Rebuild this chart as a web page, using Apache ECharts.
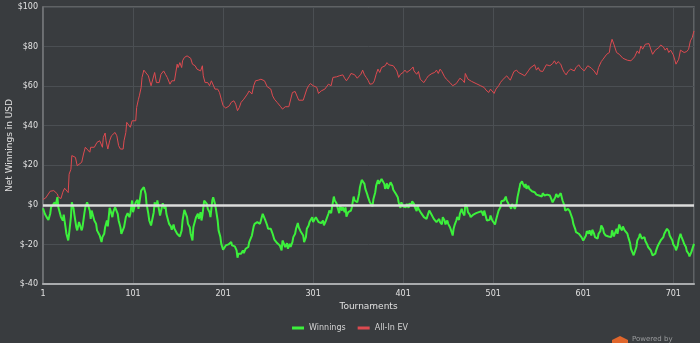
<!DOCTYPE html>
<html>
<head>
<meta charset="utf-8">
<style>
  html, body { margin: 0; padding: 0; background: #393c3f; }
  #chart { width: 700px; height: 343px; }
</style>
<script src="https://cdn.jsdelivr.net/npm/echarts@6.0.0/dist/echarts.min.js"></script>
</head>
<body>
<div id="chart"></div>
<script>
// Net result per tournament count: [tournament, USD]
const winnings = [
  [1,-1.7],[3,-4.5],[5,-6.2],[7,-7.6],[9,-4.5],[10,-1.2],[12,-0.3],[14,1.3],[15,-0.3],[17,3.9],[18,-1.2],[20,-4.5],[21,-6.2],[23,-7.9],[24,-4.9],[26,-11.3],[27,-14.6],[29,-18],[30,-14.6],[32,-6.2],[33,1.3],[35,-2],[36,-5.4],[38,-11.3],[39,-12.9],[41,-8.7],[42,-7.9],[44,-12.9],[45,-10.9],[47,-4.2],[48,-1.2],[50,1.3],[51,0.5],[53,-2.9],[54,-7.1],[55,-2.9],[57,-3.7],[58,-7.9],[60,-9.6],[61,-12.9],[63,-13.8],[64,-15.5],[66,-18.8],[67,-16.3],[69,-14.6],[70,-11.3],[72,-7.9],[73,-10.9],[75,-1.5],[76,-2.9],[78,-6.2],[79,-3.7],[81,-1.2],[82,-2.2],[84,-4.5],[85,-7.9],[87,-11.3],[88,-14.6],[90,-15.5],[91,-11.3],[93,-6.2],[94,-5.4],[95,-4.2],[97,-6.2],[98,-4.5],[100,2.2],[101,-3.7],[103,-0.3],[104,1.3],[106,2.5],[107,-2],[109,3.9],[110,7.2],[112,8.1],[113,8.9],[115,5.5],[116,0.5],[118,-4.5],[119,-7.9],[121,-10.4],[122,-11.3],
  [124,-3.7],[125,1.3],[127,-1.2],[128,2.2],[130,-2.9],[131,-5.4],[133,-1.2],[134,0.8],[136,-2],[137,-0.3],[138,-4.5],[140,-7.9],[141,-9.6],[143,-10.9],[144,-12.6],[146,-9.9],[147,-12.1],[149,-12.9],[150,-14.6],[152,-15.5],[153,-16],[155,-12.9],[156,-7.9],[158,-2.5],[159,-2.9],[161,-6.2],[162,-9.6],[164,-11.3],[165,-14.6],[167,-18],[168,-11.3],[170,-7.9],[171,-6.2],[173,-4.5],[174,-7.1],[176,-3.7],[177,-7.9],[178,-5.4],[180,2.2],[181,3],[183,0.5],[184,-2],[186,-3.7],[187,-6.2],[189,2.2],[190,3.9],[192,0.5],[193,-2],[195,-7.9],[196,-12.9],[198,-16.3],[199,-19.7],[201,-22.7],[202,-22.2],[204,-20.5],[205,-19.7],[207,-20],[208,-19.3],[210,-18.8],[211,-20.5],[213,-19.7],[214,-21],[216,-23],[217,-26.7],[218,-24.7],[220,-23.9],[221,-24.7],[223,-23],[224,-24.4],[226,-22.2],[227,-23],[229,-21.3],[230,-18.8],[232,-18],[233,-15.5],[235,-10.9],[236,-9.6],[238,-10.4],[239,-8.7],[241,-7.9],[242,-9.6],
  [244,-9.6],[245,-4.5],[247,-5.4],[248,-7.9],[250,-10.4],[251,-12.1],[253,-12.9],[254,-12.1],[256,-14.6],[257,-15.5],[258,-17.6],[260,-18],[261,-19.3],[263,-18.3],[264,-20.5],[266,-23],[267,-18],[269,-18.8],[270,-21.3],[272,-19.3],[273,-22.2],[275,-19.7],[276,-21.3],[278,-18.8],[279,-16.3],[281,-14.6],[282,-12.1],[284,-9.2],[285,-11.3],[287,-13.3],[288,-12.9],[290,-15.5],[291,-18.8],[293,-16.3],[294,-12.1],[296,-10.4],[297,-8.7],[298,-7.9],[300,-6.2],[301,-8.7],[303,-7.9],[304,-6.2],[306,-5.9],[307,-8.7],[309,-7.9],[310,-9.2],[312,-7.9],[313,-10.3],[315,-8.2],[316,-7.9],[318,-4.5],[319,-2.9],[321,-4.2],[322,-1.2],[324,4.2],[325,2.2],[327,0.8],[328,-1.2],[330,-4.2],[331,-0.3],[333,-2.9],[334,-1.2],[336,-3.7],[337,-1.2],[338,-5.9],[340,-3.7],[341,-4.2],[343,-2.9],[344,-1.2],[346,4.2],[347,2.2],[349,3],[350,1.3],[352,5.5],[353,8.9],[355,12.6],[356,12.3],[358,10.6],[359,8.1],[361,5.5],[362,3.9],
  [364,1.3],[365,0.5],[367,-0.8],[368,3],[370,6.4],[371,9.7],[373,12.6],[374,10.6],[376,11.4],[377,13.1],[378,12.6],[380,10.6],[381,8.1],[383,10.9],[384,8.1],[386,8.9],[387,11.4],[389,9.7],[390,7.6],[392,8.6],[393,5.5],[395,3.9],[396,1.3],[398,-1.5],[399,1.3],[401,-0.8],[402,-0.3],[404,-1.2],[405,0.5],[407,-1.5],[408,0.8],[410,-0.3],[411,1.8],[413,0.5],[414,-1.2],[416,-3.2],[417,-0.3],[418,-2],[420,-2.9],[421,-4.2],[423,-4.5],[424,-6.2],[426,-5.4],[427,-7.1],[429,-4.2],[430,-2.9],[432,-4.5],[433,-5.4],[435,-7.1],[436,-7.6],[438,-8.7],[439,-9.6],[441,-7.1],[442,-8.7],[444,-9.9],[445,-6.2],[447,-7.9],[448,-9.9],[450,-7.9],[451,-9.6],[453,-11.3],[454,-12.6],[456,-15.5],[457,-12.1],[458,-10.4],[460,-7.9],[461,-6.2],[463,-7.6],[464,-4.5],[466,-2],[467,-3.7],[469,-5.4],[470,0.2],[472,-1.2],[473,-3.7],[475,-4.9],[476,-6.2],[478,-5.4],[479,-4.9],[481,-5.9],[482,-4.2],
  [484,-4.5],[485,-3.7],[487,-4.5],[488,-3.2],[490,-5.4],[491,-2.9],[493,-6.2],[494,-7.9],[496,-8.7],[497,-7.6],[498,-5.4],[500,-7.9],[501,-7.1],[503,-9.9],[504,-7.9],[506,-4.5],[507,-2.9],[509,-1.2],[510,1.8],[512,1.3],[513,2.2],[515,4.2],[516,2.2],[518,0.5],[519,-0.3],[521,-2],[522,0.5],[524,0.2],[525,-2],[527,0.5],[528,3.9],[530,8.1],[531,10.6],[533,11.9],[534,10.6],[536,8.9],[537,10.6],[538,8.1],[540,9.7],[541,8.1],[543,7.2],[544,6.9],[546,5.9],[547,6.4],[549,5.2],[550,5.9],[552,4.7],[553,5.5],[555,4.2],[556,5.9],[558,4.7],[559,5.5],[561,5.2],[562,5.9],[564,4.7],[565,3.9],[567,1.3],[568,0.5],[570,3.9],[571,5.5],[573,3.9],[574,3],[576,5.9],[577,5.2],[578,2.2],[580,-0.3],[581,-2.9],[583,-3.7],[584,-2],[586,-3.2],[587,-4.5],[589,-7.1],[590,-9.6],[592,-12.1],[593,-13.8],[595,-13.3],[596,-14.6],[598,-15.5],[599,-16.3],[601,-18],[602,-17.1],
  [604,-15.5],[605,-13.3],[607,-14.6],[608,-12.9],[610,-15.5],[611,-12.6],[613,-14.6],[614,-16.3],[616,-15.5],[617,-17.1],[618,-14.6],[620,-13.3],[621,-10.4],[623,-12.1],[624,-14.3],[626,-15.5],[627,-14.6],[629,-16],[630,-15],[632,-16.3],[633,-12.9],[635,-16],[636,-14.6],[638,-12.1],[639,-14.6],[641,-9.9],[642,-11.3],[644,-12.9],[645,-10.9],[647,-12.9],[648,-12.1],[650,-14.6],[651,-16.3],[653,-19.3],[654,-22.2],[656,-23],[657,-25.5],[658,-26],[660,-21.3],[661,-18],[663,-16.3],[664,-14.6],[666,-17.1],[667,-18],[669,-16.3],[670,-18.3],[672,-20],[673,-21.3],[675,-20.5],[676,-23],[678,-25.5],[679,-26.4],[681,-24.7],[682,-23],[684,-20.5],[685,-21.3],[687,-18],[688,-18.8],[690,-16.3],[691,-14.6],[693,-13.8],[694,-12.1],[696,-13.3],[697,-15.5],[698,-14.6],[700,-18],[701,-20],[703,-21.3],[704,-23],[706,-20.5],[707,-17.6],[709,-14.6],[710,-16],[712,-18.3],[713,-19.7],[715,-21.3],[716,-23.4],[718,-24.7],[719,-26],[721,-23.9],[722,-23],[724,-19.7]
];

// All-in equity adjusted result: [tournament, USD]
const allInEV = [
  [1,2.7],[4,3.5],[6,2.9],[9,6.9],[13,7.2],[15,6.9],[17,5.5],[18,3.9],[21,3.2],[23,6.4],[25,8.4],[27,7.7],[29,6.2],[30,15.5],[32,18],[33,24.9],[35,25.7],[37,24],[39,19.8],[41,19.8],[44,21.5],[46,25.7],[48,29.1],[50,28.2],[53,26.6],[54,29.1],[55,28.2],[58,29.1],[61,31.6],[63,30.8],[64,32.4],[67,29.1],[68,34.1],[70,36.3],[71,32.4],[73,28.2],[74,27.4],[75,32.4],[77,34.9],[79,34.1],[81,36.6],[83,34.9],[85,29.9],[87,28.2],[90,28.2],[91,32.4],[93,36.6],[94,41.7],[96,42.5],[98,39.2],[100,42.5],[102,43.4],[104,42.5],[105,49.2],[107,53.4],[108,55.1],[110,59.3],[111,64.4],[113,68.1],[115,67.7],
  [118,65.2],[121,60.2],[123,60.2],[125,66.9],[127,61.8],[130,61.8],[132,66],[135,67.7],[137,66],[139,64.4],[142,61],[144,62.7],[147,62.7],[150,71.1],[151,69.4],[153,71.9],[155,69.4],[156,72.8],[158,74.5],[161,75.3],[163,76.1],[165,74.1],[167,71.1],[170,70.3],[172,68.6],[173,69.4],[176,67.7],[178,70.3],[179,65.2],[181,61.8],[184,61.8],[186,60.2],[188,62.7],[190,61.8],[192,58.5],[195,58.5],[197,56.8],[199,53.4],[201,50.1],[204,48.9],[206,49.6],[208,50.1],[210,51.8],[213,52.6],[215,50.9],[217,47.6],[219,49.2],[221,51.8],[224,53.4],[226,53.9],[228,56],[230,57.6],[233,56],[235,60.2],[237,62.7],[240,63],
  [243,63.5],[245,63],[247,62.7],[250,59.7],[252,59.3],[254,58.5],[256,55.1],[258,53.4],[261,51.8],[263,50.9],[265,49.6],[267,48.4],[270,49.6],[272,50.1],[274,49.6],[276,50.6],[278,56.8],[281,57.3],[283,56.8],[285,52.9],[287,53.9],[290,52.9],[292,53.9],[294,58.5],[296,60.2],[298,61.3],[301,60.2],[303,59.7],[305,59.4],[307,56.3],[310,57.6],[312,57.5],[314,58.5],[316,59.3],[318,61],[321,60.2],[323,64.4],[325,64],[327,64.7],[330,65.2],[332,65.1],[334,65.7],[336,64],[338,62.7],[341,64.7],[343,66.4],[345,65.7],[347,65.8],[350,64],[352,64.1],[354,66],[356,68.1],[358,65.7],
  [360,64.4],[362,63],[364,61],[367,61.2],[369,62.7],[371,66],[373,68.6],[375,66.9],[377,69.4],[379,69.4],[381,70.3],[383,71.9],[385,70.8],[387,71.1],[390,70.3],[392,69.4],[394,67.7],[396,64.4],[398,66],[401,66.9],[403,68.1],[405,66.9],[407,67.7],[410,68.6],[412,69.7],[413,67.7],[416,66],[418,67.4],[420,63.5],[422,64.4],[424,61.8],[427,63.9],[429,65.2],[431,64.4],[433,66.4],[436,66.9],[438,68.1],[440,66.4],[442,68.6],[444,67.4],[447,64.7],[449,63.5],[451,64],[453,61.8],[456,60.2],[458,59.7],[460,61.3],[462,61.5],[464,64],[467,63],[469,61.8],[470,66.4],[473,63.5],[475,62.7],[477,62.4],[479,61.8],
  [482,61.3],[484,61],[487,60.2],[489,61],[491,59.3],[493,58],[496,56.8],[498,58.5],[500,57.6],[502,56.3],[504,58.5],[507,60.2],[509,61.8],[511,63],[513,62.4],[516,65.2],[518,64.4],[520,63],[522,65.2],[524,67.4],[527,68.1],[529,66.9],[531,67.7],[533,66],[536,65.2],[538,65.5],[540,67.7],[542,69.1],[544,69.4],[547,70.8],[549,68.1],[551,69.4],[553,67.7],[556,67.4],[558,66.4],[560,70.8],[562,71.4],[564,70.3],[567,71.4],[569,72.8],[571,71.1],[573,72.4],[576,71.1],[578,68.6],[580,66.9],[582,65.7],[584,67.4],[587,68.6],[589,68.1],[591,67.7],[593,69.4],[596,70.8],[598,69.4],[600,68.6],
  [602,67.7],[604,66.9],[606,70.3],[608,69.4],[610,69.1],[613,67.7],[615,66.9],[616,65.7],[618,69.4],[621,72.4],[623,73.6],[625,74.5],[627,76.1],[630,77],[631,80.3],[633,83.7],[635,81.2],[637,80.3],[638,77],[641,76.1],[643,75.3],[645,74.1],[647,73.6],[650,73.1],[652,74.1],[654,72.8],[656,72.4],[658,74.8],[661,77.8],[663,76.5],[665,80.3],[667,78.7],[670,81.2],[672,80.3],[674,81.5],[676,78.7],[678,76.1],[681,78.2],[683,77.5],[685,79.5],[687,80.8],[690,79.8],[692,78.2],[694,79.3],[696,77],[698,78.2],[701,75.8],[703,72.8],[704,71.1],[707,73.6],[709,78.2],[711,77.5],[713,77],[716,77.5],[718,78.7],[720,82.9],[722,84.5],[724,87.9]
];

const seriesNames = ['Winnings', 'All-In EV'];
const tournamentRange = [1, 724];   // first and last tournament
const tournamentStep = 100;         // x tick spacing: 1, 101, 201 ...
const usdRange = [-40, 100];
const usdStep = 20;

const FONT = 'DejaVu Sans';
const chart = echarts.init(document.getElementById('chart'), null, { renderer: 'canvas' });

chart.setOption({
  animation: false,
  backgroundColor: '#393c3f',
  textStyle: { fontFamily: FONT },
  grid: {
    left: 43, right: 6, top: 7, bottom: 59,
    containLabel: false,
    outerBoundsMode: 'none',
    show: true, borderColor: '#6c6f72', borderWidth: 1.5, backgroundColor: 'transparent'
  },
  legend: {
    data: seriesNames,
    bottom: 6,
    left: 'center',
    itemWidth: 12, itemHeight: 3, itemGap: 12,
    icon: 'rect',
    textStyle: { color: '#d4d4d4', fontSize: 8, fontFamily: FONT }
  },
  xAxis: {
    type: 'value',
    min: tournamentRange[0], max: tournamentRange[1], interval: tournamentStep,
    name: 'Tournaments', nameLocation: 'middle', nameGap: 18,
    nameMoveOverlap: false,
    nameTextStyle: { color: '#e0e0e0', fontSize: 9, fontFamily: FONT },
    axisLine: { show: true, onZero: false, lineStyle: { color: '#a9abad', width: 2 } },
    axisTick: { show: false },
    axisLabel: { color: '#e2e2e2', fontSize: 8, fontFamily: FONT, margin: 6, showMaxLabel: false },
    splitLine: { show: true, lineStyle: { color: '#4b4f53', width: 1 } }
  },
  yAxis: {
    type: 'value',
    min: usdRange[0], max: usdRange[1], interval: usdStep,
    name: 'Net Winnings in USD', nameLocation: 'middle', nameGap: 29,
    nameMoveOverlap: false,
    nameTextStyle: { color: '#e0e0e0', fontSize: 9, fontFamily: FONT },
    axisLine: { show: true, lineStyle: { color: '#737679', width: 1.5 } },
    axisTick: { show: false },
    axisLabel: { color: '#e2e2e2', fontSize: 8, fontFamily: FONT, margin: 5, formatter: v => '$' + v },
    splitLine: { show: true, lineStyle: { color: '#4b4f53', width: 1 } }
  },
  series: [
    {
      name: seriesNames[0],
      type: 'line',
      data: winnings,
      showSymbol: false,
      color: '#3cf03c',
      lineStyle: { width: 2, color: '#3cf03c' },
      z: 3,
      markLine: {
        silent: true,
        symbol: 'none',
        label: { show: false },
        lineStyle: { color: '#dcdcdc', width: 2.5, type: 'solid' },
        data: [{ yAxis: 0 }]
      }
    },
    {
      name: seriesNames[1],
      type: 'line',
      data: allInEV,
      showSymbol: false,
      color: '#dd4a50',
      lineStyle: { width: 1, color: '#dd4a50' },
      z: 2
    }
  ],
  graphic: [
    {
      type: 'polygon', left: 612, top: 336, silent: true,
      shape: { points: [[8, 0], [16, 4], [16, 12], [8, 16], [0, 12], [0, 4]] },
      style: { fill: '#e0662c' }
    },
    {
      type: 'text', left: 632, top: 336, silent: true,
      style: { text: 'Powered by', fill: '#9a9c9e', fontSize: 7, fontFamily: FONT }
    }
  ]
});
</script>
</body>
</html>
